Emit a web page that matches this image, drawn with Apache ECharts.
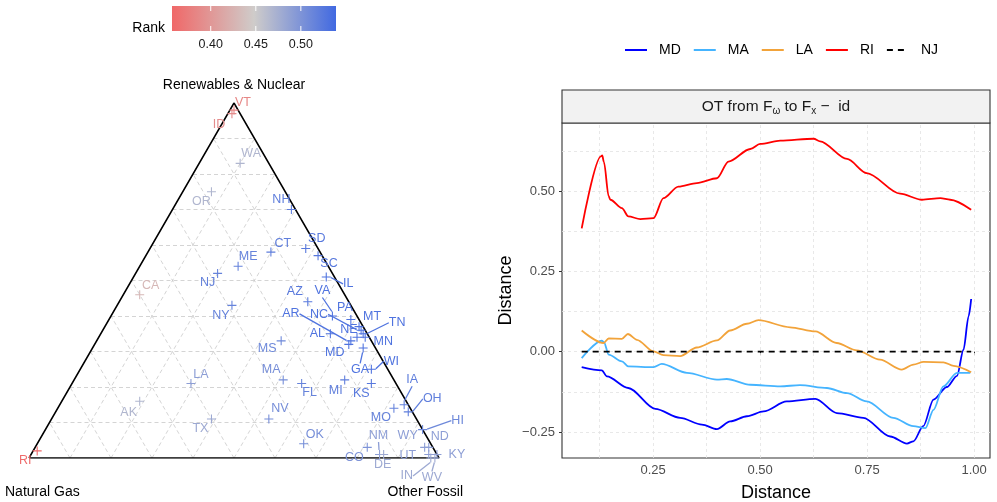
<!DOCTYPE html>
<html>
<head>
<meta charset="utf-8">
<script src="https://cdn.jsdelivr.net/npm/echarts@6/dist/echarts.min.js"></script>
<style>
html, body { margin: 0; padding: 0; background: #fff; }
#main { width: 997px; height: 502px; }
</style>
</head>
<body>
<div id="main"></div>
<script>
// ternary: share of renewables & nuclear / natural gas / other fossil, and rank
var states = ['VT','ID','WA','OR','NH','CT','ME','NJ','CA','NY','MS','MA','FL','LA','AK','TX','NV','OK','RI','AZ',
    'SD','SC','IL','VA','NC','PA','MT','TN','MN','NE','AL','AR','MD','GA','WI','KS','MI','IA','MO','OH',
    'HI','WY','ND','CO','NM','DE','UT','KY','IN','WV'];
var renew  = [0.98,0.97,0.83,0.75,0.70,0.58,0.54,0.52,0.46,0.43,0.33,0.22,0.21,0.21,0.16,0.11,0.11,0.04,0.02,0.44,
    0.59,0.57,0.51,0.40,0.36,0.39,0.37,0.35,0.34,0.34,0.35,0.33,0.32,0.31,0.25,0.21,0.22,0.15,0.14,0.13,
    0.08,0.03,0.03,0.03,0.01,0.01,0.01,0.01,0.00,0.00];
var gas    = [0.01,0.02,0.07,0.18,0.01,0.12,0.22,0.28,0.50,0.29,0.22,0.27,0.23,0.50,0.65,0.50,0.36,0.31,0.97,0.10,
    0.03,0.01,0.02,0.06,0.01,0.02,0.01,0.01,0.01,0.03,0.09,0.05,0.06,0.03,0.04,0.06,0.12,0.01,0.04,0.01,
    0.00,0.02,0.01,0.16,0.14,0.13,0.02,0.00,0.02,0.01];
var fossil = [0.01,0.01,0.10,0.07,0.29,0.30,0.24,0.20,0.04,0.28,0.45,0.51,0.56,0.29,0.19,0.39,0.53,0.65,0.01,0.46,
    0.38,0.42,0.47,0.54,0.63,0.59,0.62,0.64,0.65,0.63,0.56,0.62,0.62,0.66,0.71,0.73,0.66,0.84,0.82,0.86,
    0.92,0.95,0.96,0.81,0.85,0.86,0.97,0.99,0.98,0.99];
var rank   = [0.385,0.39,0.468,0.468,0.52,0.52,0.515,0.515,0.43,0.515,0.51,0.505,0.515,0.49,0.468,0.48,0.505,0.505,0.36,0.525,
    0.525,0.525,0.53,0.53,0.53,0.53,0.53,0.53,0.53,0.53,0.53,0.53,0.53,0.53,0.53,0.525,0.52,0.52,0.515,0.52,
    0.51,0.49,0.49,0.50,0.49,0.48,0.49,0.49,0.48,0.48];
var rankMin = 0.357, rankMax = 0.539;
var rankBreaks = [0.40, 0.45, 0.50];
var rankColors = ['#F06868', '#CFCCCA', '#4169E1'];
var gridSteps = [0.1, 0.2, 0.3, 0.4, 0.5, 0.6, 0.7, 0.8, 0.9];

// distance curves
var mdX = [0.083,0.130,0.142,0.192,0.255,0.313,0.364,0.399,0.430,0.469,0.508,0.562,0.629,0.679,0.741,0.804,0.843,0.858,0.881,0.905,0.936,0.960,0.975,0.987,0.993];
var mdY = [-0.048,-0.058,-0.077,-0.113,-0.178,-0.206,-0.227,-0.241,-0.217,-0.201,-0.186,-0.155,-0.147,-0.191,-0.206,-0.264,-0.286,-0.279,-0.232,-0.149,-0.110,-0.075,0.006,0.110,0.164];
var maX = [0.083,0.130,0.135,0.146,0.177,0.192,0.251,0.270,0.329,0.399,0.422,0.477,0.547,0.593,0.656,0.703,0.749,0.811,0.858,0.886,0.905,0.928,0.960,0.991];
var maY = [-0.020,0.034,0.030,-0.009,-0.030,-0.046,-0.048,-0.038,-0.066,-0.087,-0.085,-0.103,-0.108,-0.104,-0.113,-0.129,-0.155,-0.206,-0.232,-0.238,-0.181,-0.108,-0.066,-0.066];
var laX = [0.083,0.134,0.146,0.177,0.191,0.212,0.251,0.274,0.313,0.352,0.399,0.430,0.469,0.496,0.570,0.629,0.679,0.726,0.780,0.831,0.858,0.882,0.928,0.952,0.993];
var laY = [0.066,0.027,0.041,0.040,0.055,0.037,0.001,-0.011,-0.014,0.013,0.035,0.066,0.087,0.098,0.076,0.063,0.027,0.004,-0.025,-0.056,-0.040,-0.032,-0.033,-0.044,-0.064];
var riX = [0.083,0.128,0.131,0.135,0.146,0.150,0.177,0.192,0.220,0.251,0.274,0.309,0.352,0.399,0.426,0.477,0.500,0.547,0.625,0.640,0.703,0.749,0.827,0.878,0.921,0.944,0.993];
var riY = [0.384,0.608,0.611,0.590,0.484,0.473,0.447,0.421,0.413,0.416,0.478,0.514,0.525,0.540,0.592,0.631,0.647,0.657,0.663,0.655,0.600,0.556,0.492,0.473,0.478,0.473,0.442];
var njX = [0.083, 0.993];
var njY = [0, 0];
var xBreaks = [0.25, 0.50, 0.75, 1.00];
var yBreaks = [-0.25, 0.00, 0.25, 0.50];
var xGridVals = [0.125, 0.25, 0.375, 0.5, 0.625, 0.75, 0.875, 1.0];
var yGridVals = [-0.25, -0.125, 0, 0.125, 0.25, 0.375, 0.5, 0.625];

// label placement (repel-style), offsets in px from the point
var labelOffset = {
    VT:[9,-8], ID:[-13,11], WA:[11,-10], OR:[-10,10], NH:[-10,-10], CT:[12,-9], ME:[10,-10], NJ:[-10,9],
    CA:[11,-9], NY:[-11,10], MS:[-14,8], MA:[-12,-10], FL:[8,9], LA:[10,-9], AK:[-11,11], TX:[-11,10],
    NV:[11,-10], OK:[11,-9], RI:[-12,10], AZ:[-13,-10], SD:[11,-10], SC:[11,8], IL:[22,7], VA:[-10,-25],
    NC:[-42,-16], PA:[-6,-12], MT:[13,-10], TN:[34,-11], MN:[18,4], NE:[-8,-8], AL:[-13,0], AR:[-60,-27],
    MD:[-14,8], GA:[-3,22], WI:[20,-8], KS:[-10,10], MI:[-9,11], IA:[8,-25], MO:[-13,9], OH:[24,-13],
    HI:[35,-9], WY:[-17,-12], ND:[11,-11], CO:[-13,10], NM:[-1,-19], DE:[-1,10], UT:[-21,1], KY:[20,0],
    IN:[-24,18], WV:[-3,20]
};
var withSegment = ['IL','VA','NC','AR','TN','GA','WI','IA','OH','HI','NM','IN','WV'];

var H = Math.sqrt(3) / 2;
function toXY(r, g, o) { return [o + r / 2, r * H]; }

var font = 'Liberation Sans, Arial, Helvetica, sans-serif';

var ternLines = [];
gridSteps.forEach(function (f) {
    ternLines.push({coords: [toXY(f, 1 - f, 0), toXY(f, 0, 1 - f)]});
    ternLines.push({coords: [toXY(0, 1 - f, f), toXY(1 - f, 0, f)]});
    ternLines.push({coords: [toXY(0, f, 1 - f), toXY(1 - f, f, 0)]});
});
var border = [toXY(0, 1, 0), toXY(0, 0, 1), toXY(1, 0, 0), toXY(0, 1, 0)];

var pts = states.map(function (s, i) {
    var p = toXY(renew[i], gas[i], fossil[i]);
    return {
        name: s,
        value: [p[0], p[1], rank[i]],
        labelLine: {show: withSegment.indexOf(s) >= 0}
    };
});

var xMin = 0.037, xMax = 1.037, yMin = -0.331, yMax = 0.712;
var panelLines = [];
xGridVals.forEach(function (v) { panelLines.push({coords: [[v, yMin], [v, yMax]]}); });
yGridVals.forEach(function (v) { panelLines.push({coords: [[xMin, v], [xMax, v]]}); });

function zip(xs, ys) { return xs.map(function (x, i) { return [x, ys[i]]; }); }
function fmt(v) { return (v < 0 ? '\u2212' : '') + Math.abs(v).toFixed(2); }

var chart = echarts.init(document.getElementById('main'));
chart.setOption({
    animation: false,
    textStyle: {fontFamily: font},
    grid: [
        {left: 29, top: 103, width: 410, height: 355, outerBoundsMode: 'none'},
        {left: 562, top: 123, width: 428, height: 335, outerBoundsMode: 'none',
            show: true, borderColor: '#333', borderWidth: 1.1, backgroundColor: '#fff'},
        {left: 172, top: 6, width: 164, height: 25, outerBoundsMode: 'none'}
    ],
    xAxis: [
        {gridIndex: 0, type: 'value', min: 0, max: 1, show: false},
        {gridIndex: 1, type: 'value', min: xMin, max: xMax,
            axisLine: {show: false}, splitLine: {show: false},
            axisTick: {show: true, length: 3, customValues: xBreaks, lineStyle: {color: '#333'}},
            axisLabel: {customValues: xBreaks, margin: 6, color: '#4D4D4D', fontSize: 13, formatter: fmt},
            name: 'Distance', nameLocation: 'middle', nameGap: 26,
            nameTextStyle: {fontSize: 18, color: '#000'}},
        {gridIndex: 2, type: 'value', min: rankMin, max: rankMax,
            axisLine: {show: false}, splitLine: {show: false}, axisTick: {show: false},
            axisLabel: {customValues: rankBreaks, margin: 7, color: '#1A1A1A', fontSize: 12.5,
                formatter: function (v) { return v.toFixed(2); }}}
    ],
    yAxis: [
        {gridIndex: 0, type: 'value', min: 0, max: H, show: false},
        {gridIndex: 1, type: 'value', min: yMin, max: yMax,
            axisLine: {show: false}, splitLine: {show: false},
            axisTick: {show: true, length: 3, customValues: yBreaks, lineStyle: {color: '#333'}},
            axisLabel: {customValues: yBreaks, margin: 7, color: '#4D4D4D', fontSize: 13, formatter: fmt},
            name: 'Distance', nameLocation: 'middle', nameGap: 47,
            nameTextStyle: {fontSize: 18, color: '#000'}},
        {gridIndex: 2, type: 'value', min: 0, max: 1, show: false}
    ],
    visualMap: {
        type: 'continuous', show: false, seriesIndex: 2, dimension: 2,
        min: rankMin, max: rankMax, inRange: {color: rankColors}
    },
    legend: {
        data: ['MD', 'MA', 'LA', 'RI', 'NJ'],
        left: 619, top: 38, itemWidth: 22, itemHeight: 14, itemGap: 12,
        itemStyle: {opacity: 0},
        textStyle: {fontSize: 14, color: '#000', padding: [0, 0, 0, 7]}
    },
    graphic: [
        {type: 'text', style: {text: 'Renewables & Nuclear', x: 234, y: 85, fill: '#000', font: '14px ' + font, align: 'center', verticalAlign: 'middle'}},
        {type: 'text', style: {text: 'Natural Gas', x: 5, y: 492, fill: '#000', font: '14px ' + font, align: 'left', verticalAlign: 'middle'}},
        {type: 'text', style: {text: 'Other Fossil', x: 463, y: 492, fill: '#000', font: '14px ' + font, align: 'right', verticalAlign: 'middle'}},
        {type: 'text', style: {text: 'Rank', x: 165, y: 28, fill: '#000', font: '14px ' + font, align: 'right', verticalAlign: 'middle'}},
        {type: 'rect', shape: {x: 562, y: 90, width: 428, height: 33}, style: {fill: '#F2F2F2', stroke: '#333', lineWidth: 1.1}},
        {type: 'text', style: {
            x: 776, y: 107, align: 'center', verticalAlign: 'middle',
            text: 'OT from F{s|\u03c9} to F{s|x} \u2212  id',
            font: '15.5px ' + font, fill: '#1A1A1A',
            rich: {s: {fontSize: 10, padding: [9, 0, 0, 0], fill: '#1A1A1A'}}
        }}
    ],
    series: [
        {type: 'lines', coordinateSystem: 'cartesian2d', xAxisIndex: 0, yAxisIndex: 0, silent: true, z: 1,
            lineStyle: {color: '#C9C9C9', width: 0.8, type: [4, 3], opacity: 1},
            data: ternLines},
        {type: 'line', xAxisIndex: 0, yAxisIndex: 0, symbol: 'none', silent: true, z: 3,
            lineStyle: {color: '#000', width: 1.5}, data: border},
        {type: 'scatter', xAxisIndex: 0, yAxisIndex: 0, z: 4,
            symbol: 'path://M0,4.4H10V5.6H0Z M4.4,0H5.6V10H4.4Z', symbolSize: 9,
            itemStyle: {opacity: 1},
            label: {show: true, position: 'inside', color: 'inherit', fontSize: 12.5,
                formatter: function (p) { return p.name; }},
            labelLine: {show: false, lineStyle: {width: 1.3}},
            labelLayout: function (p) {
                var o = labelOffset[states[p.dataIndex]];
                return {dx: o[0], dy: o[1]};
            },
            data: pts},
        {type: 'custom', xAxisIndex: 2, yAxisIndex: 2, silent: true, data: [[rankMin]],
            renderItem: function (params, api) {
                var a = api.coord([rankMin, 1]);
                var b = api.coord([rankMax, 0]);
                var kids = [{type: 'rect', shape: {x: a[0], y: a[1], width: b[0] - a[0], height: b[1] - a[1]},
                    style: {fill: new echarts.graphic.LinearGradient(0, 0, 1, 0, [
                        {offset: 0, color: rankColors[0]}, {offset: 0.5, color: rankColors[1]}, {offset: 1, color: rankColors[2]}])}}];
                rankBreaks.forEach(function (v) {
                    var t = api.coord([v, 1]), u = api.coord([v, 0]);
                    kids.push({type: 'line', shape: {x1: t[0], y1: t[1], x2: t[0], y2: t[1] + 5}, style: {stroke: '#fff', lineWidth: 1}});
                    kids.push({type: 'line', shape: {x1: u[0], y1: u[1] - 5, x2: u[0], y2: u[1]}, style: {stroke: '#fff', lineWidth: 1}});
                });
                return {type: 'group', children: kids};
            }},
        {type: 'lines', coordinateSystem: 'cartesian2d', xAxisIndex: 1, yAxisIndex: 1, silent: true, z: 1,
            lineStyle: {color: '#E3E3E3', width: 0.8, type: [3, 3], opacity: 1},
            data: panelLines},
        {name: 'MD', type: 'line', xAxisIndex: 1, yAxisIndex: 1, symbol: 'none', smooth: 0.3, smoothMonotone: 'x',
            color: '#0000FF', lineStyle: {width: 1.8}, data: zip(mdX, mdY)},
        {name: 'MA', type: 'line', xAxisIndex: 1, yAxisIndex: 1, symbol: 'none', smooth: 0.3, smoothMonotone: 'x',
            color: '#45B4FF', lineStyle: {width: 1.8}, data: zip(maX, maY)},
        {name: 'LA', type: 'line', xAxisIndex: 1, yAxisIndex: 1, symbol: 'none', smooth: 0.3, smoothMonotone: 'x',
            color: '#F2A33A', lineStyle: {width: 1.8}, data: zip(laX, laY)},
        {name: 'RI', type: 'line', xAxisIndex: 1, yAxisIndex: 1, symbol: 'none', smooth: 0.3, smoothMonotone: 'x',
            color: '#FF0000', lineStyle: {width: 1.8}, data: zip(riX, riY)},
        {name: 'NJ', type: 'line', xAxisIndex: 1, yAxisIndex: 1, symbol: 'none',
            color: '#000', lineStyle: {width: 1.8, type: [6, 5]}, data: zip(njX, njY)}
    ]
});
</script>
</body>
</html>
